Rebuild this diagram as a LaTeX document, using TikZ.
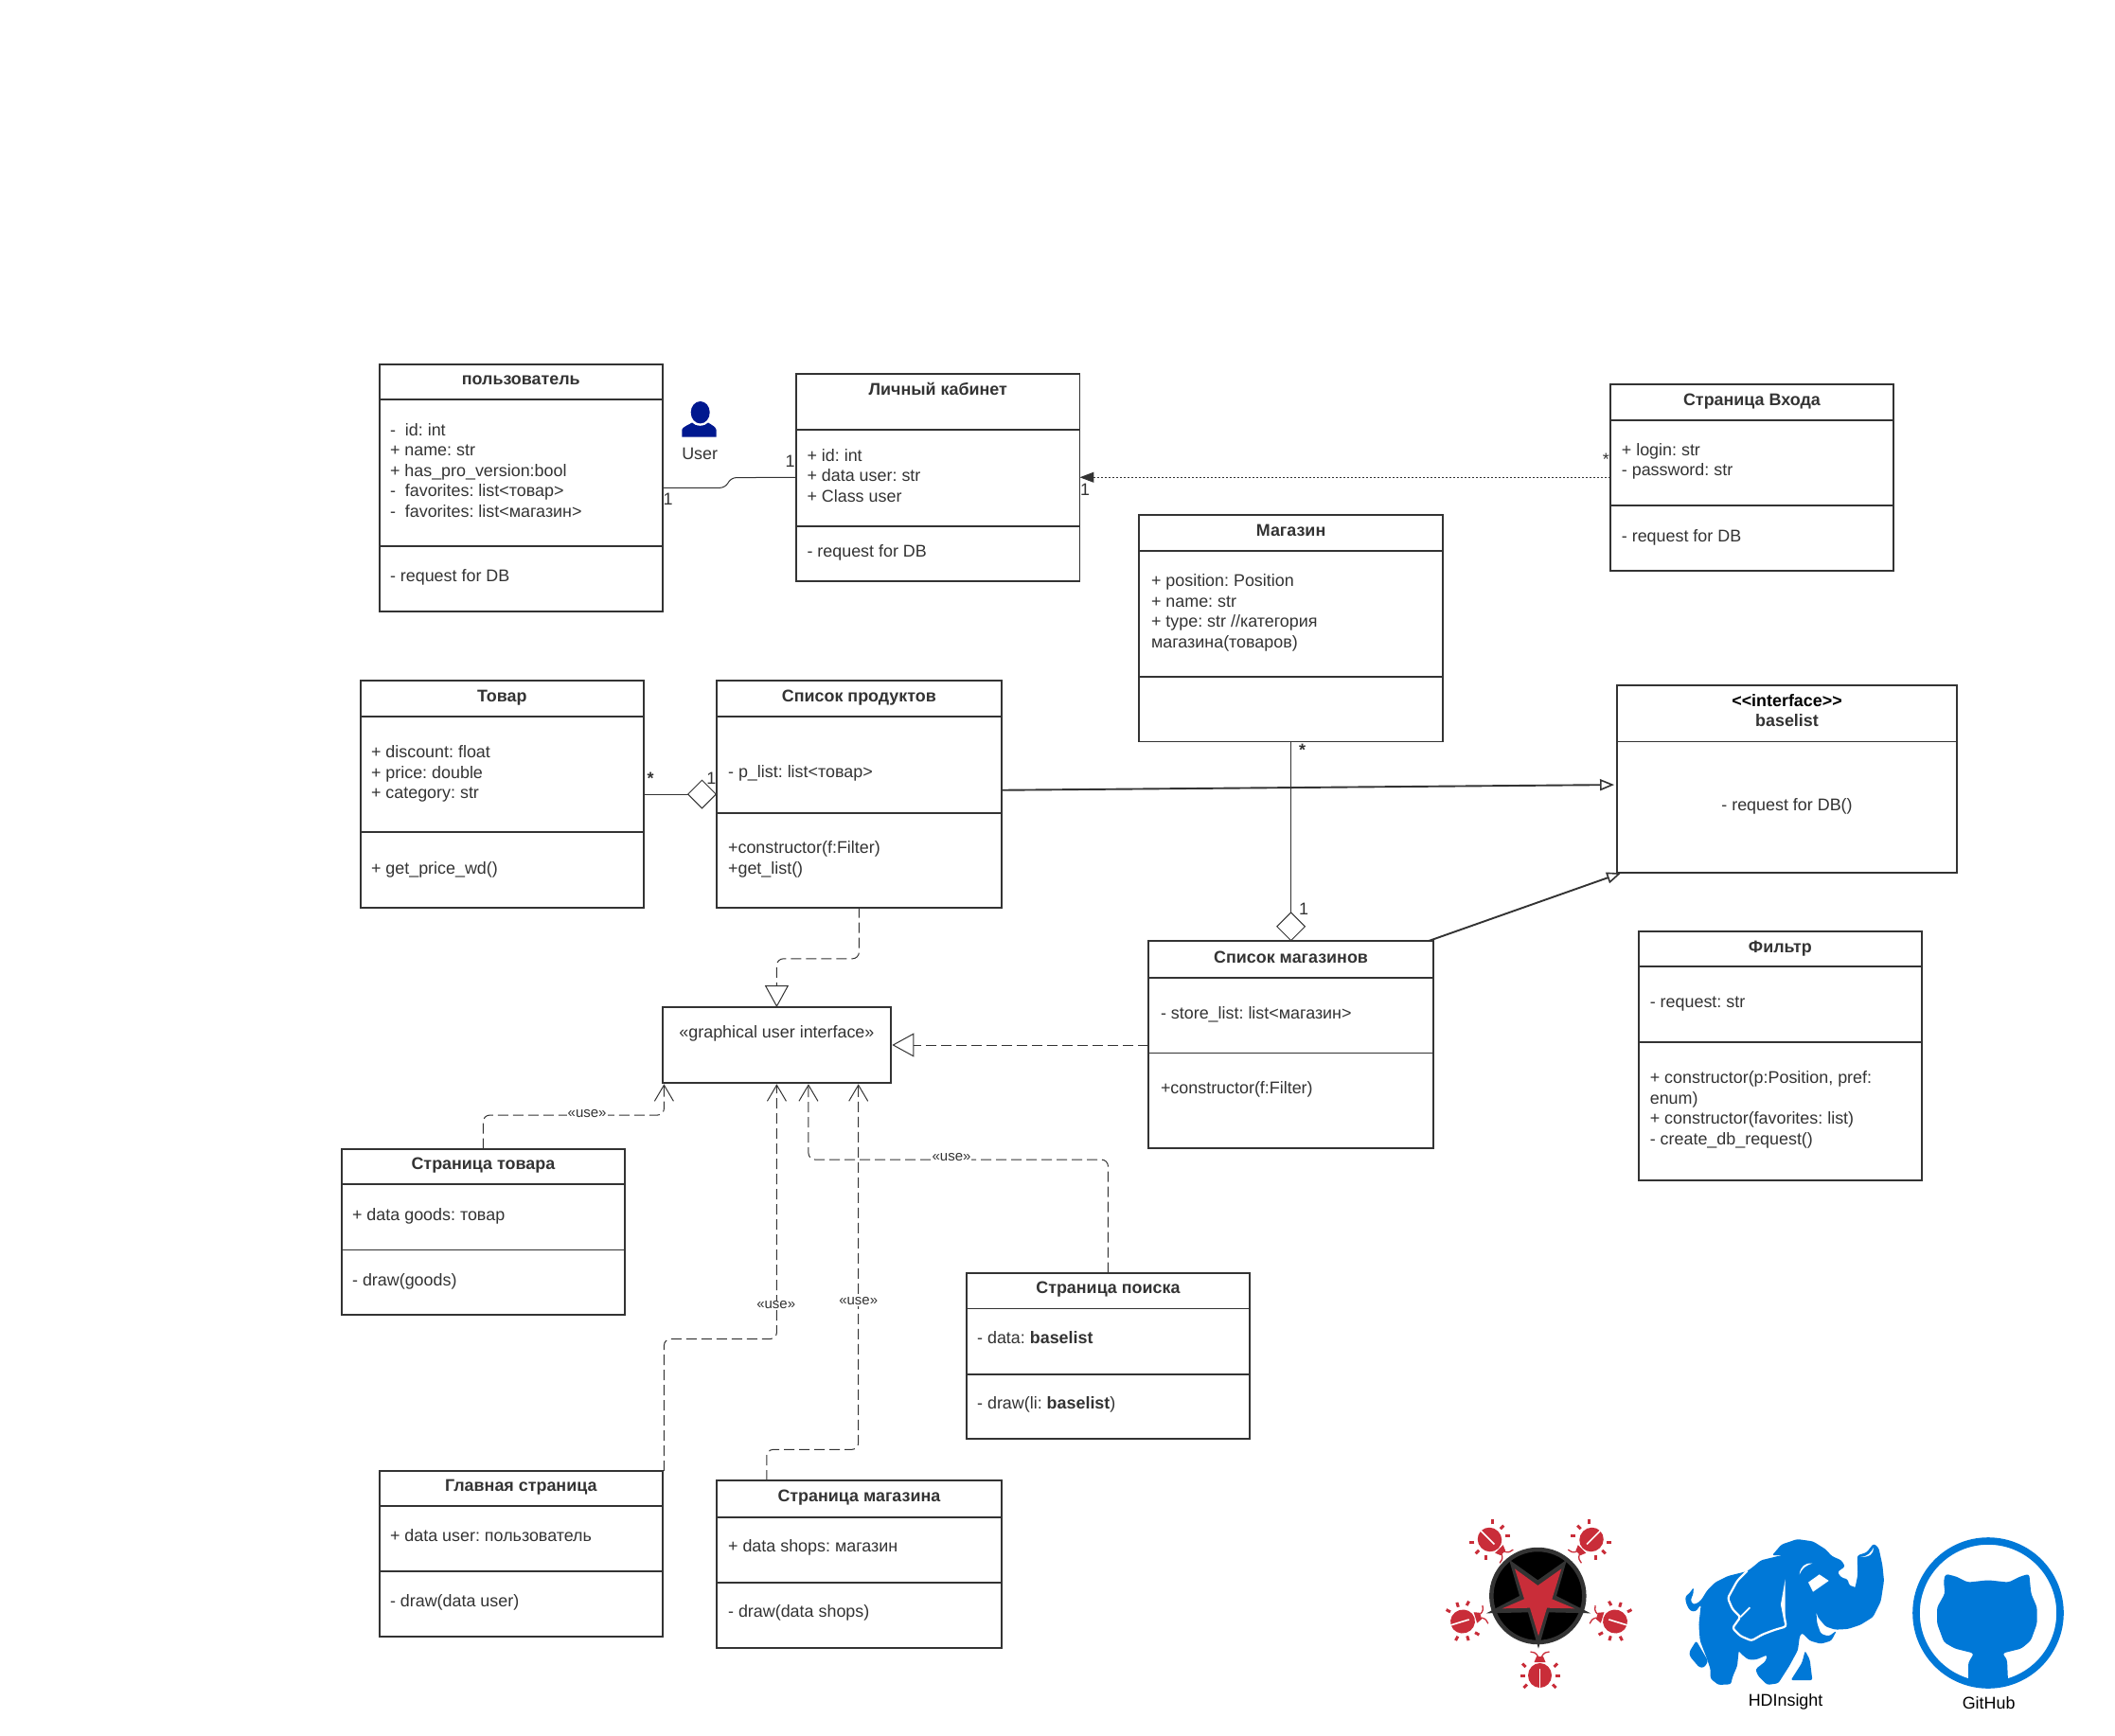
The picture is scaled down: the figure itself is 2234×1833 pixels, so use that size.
\documentclass[tikz,border=0pt]{standalone}
\usepackage{fontspec}
\setmainfont{Liberation Sans}
\usetikzlibrary{arrows.meta,calc}
\definecolor{ink}{HTML}{333333}
\definecolor{bugred}{HTML}{C92D39}
\definecolor{azure}{HTML}{0078D7}
\definecolor{navyuser}{HTML}{00188F}
\tikzset{
  umlframe/.style={draw=ink,line width=1.9pt,fill=white,inner sep=0pt,outer sep=0pt},
  memtext/.style={anchor=north west,inner sep=0pt,outer sep=0pt,align=left,text=ink,yshift=9.4pt,font=\fontsize{17.9}{21.5}\selectfont},
  titletext/.style={anchor=center,inner sep=0pt,outer sep=0pt,align=center,text=ink,yshift=-1.3pt,font=\fontsize{17.9}{21.5}\selectfont\bfseries},
  plaintext/.style={anchor=center,inner sep=0pt,outer sep=0pt,align=center,text=ink,yshift=-1.3pt,font=\fontsize{17.9}{21.5}\selectfont},
  mult/.style={anchor=center,inner sep=0pt,outer sep=0pt,text=ink,font=\fontsize{18}{21}\selectfont},
  uselabel/.style={anchor=center,fill=white,inner sep=1pt,outer sep=0pt,text=ink,font=\fontsize{15}{18}\selectfont},
  conn/.style={draw=ink,line width=1pt},
  usedep/.style={conn,dash pattern=on 11pt off 5pt,rounded corners=7pt,-{Straight Barb[length=17pt,width=20pt,line width=1pt]}},
  realize/.style={conn,dash pattern=on 11pt off 5pt,rounded corners=7pt,-{Triangle[open,length=23pt,width=25pt,fill=white,line width=1pt]}},
  generalize/.style={draw=ink,line width=1.9pt,-{Triangle[open,length=15pt,width=12pt,fill=white,line width=1.6pt]}},
  bugleg/.style={draw=bugred,line width=3pt},
}
% name x1 y1 x2 y2 sep1 sep2 titleY title
\newcommand{\umlbox}[9]{%
  \node[umlframe,minimum width={1.4256pt*(#4-#2)},minimum height={1.4245pt*(#5-#3)}] (#1) at ({(#2+#4)/2},{(#3+#5)/2}) {};
  \draw[draw=ink,line width=1.9pt] (#1.west |- 0,#6) -- (#1.east |- 0,#6);
  \draw[draw=ink,line width=1.9pt] (#1.west |- 0,#7) -- (#1.east |- 0,#7);
  \node[titletext] (#1-title) at ({(#2+#4)/2},#8) {\strut #9};
}
\newcommand{\bugicon}[3]{%
  \begin{scope}[shift={(#1pt,-#2pt)},rotate=#3,x=1pt,y=1pt]
    \fill[bugred] (0,0) ellipse (12.5pt and 13pt);
    \draw[white,line width=1.6pt] (0,7) -- (0,-13.5);
    \fill[bugred] (-6,14) -- (6,14) -- (3.5,20) -- (-3.5,20) -- cycle;
    \draw[bugred,line width=1.3pt] (-2,20) .. controls (-4,24) and (-7,25) .. (-10,25);
    \draw[bugred,line width=1.3pt] (2,20) .. controls (4,24) and (7,25) .. (10,25);
    \draw[bugleg] (-15,9) -- (-18.5,12.5);
    \draw[bugleg] (15,9) -- (18.5,12.5);
    \draw[bugleg] (-16,0) -- (-21,0);
    \draw[bugleg] (16,0) -- (21,0);
    \draw[bugleg] (-13.5,-9.5) -- (-17,-13);
    \draw[bugleg] (13.5,-9.5) -- (17,-13);
  \end{scope}
}
\begin{document}
\frenchspacing
\begin{tikzpicture}[x=1.4256pt,y=-1.4245pt]
\useasboundingbox (0pt,0pt) rectangle (2234pt,-1833pt);
\fill[white] (0pt,0pt) rectangle (2234pt,-1833pt);

% ---------- classes
\umlbox{user}{281}{270}{491}{453.5}{296}{405}{281.5}{пользователь}
\node[memtext] (user-a) at (289,319) {\strut -\ \ id: int\\+ name: str\\+ has\_pro\_version:bool\\-\ \ favorites: list<товар>\\-\ \ favorites: list<магазин>};
\node[memtext] (user-b) at (289,427.5) {\strut - request for DB};

\umlbox{kab}{590}{277}{800}{431}{318.5}{390}{289}{Личный кабинет}
\node[memtext] (kab-a) at (598,338) {\strut + id: int\\+ data user: str\\+ Class user};
\node[memtext] (kab-b) at (598,409) {\strut - request for DB};

\umlbox{vhod}{1193}{285}{1403}{423}{311.5}{375}{297}{Страница Входа}
\node[memtext] (vhod-a) at (1201.5,334) {\strut + login: str\\- password: str};
\node[memtext] (vhod-b) at (1201.5,398) {\strut - request for DB};

\umlbox{mag}{844}{382}{1069}{550}{408.5}{502}{393.5}{Магазин}
\node[memtext] (mag-a) at (853,431) {\strut + position: Position\\+ name: str\\+ type: str //категория\\магазина(товаров)};

\umlbox{tov}{267}{505}{477}{673}{531.5}{617}{516.5}{Товар}
\node[memtext] (tov-a) at (275,558) {\strut + discount: float\\+ price: double\\+ category: str};
\node[memtext] (tov-b) at (275,644) {\strut + get\_price\_wd()};

\umlbox{prod}{531}{505}{742}{673}{531.5}{603}{516.5}{Список продуктов}
\node[memtext] (prod-a) at (539.5,573) {\strut - p\_list: list<товар>};
\node[memtext] (prod-b) at (539.5,629) {\strut +constructor(f:Filter)\\+get\_list()};

\umlbox{base}{1198}{508}{1450}{647}{550}{550}{520}{\textcolor{black}{<{}<interface>{}>}}
\node[titletext] (base-name) at (1324,535) {\strut baselist};
\node[plaintext] (base-a) at (1324,597) {\strut - request for DB()};

\umlbox{mlist}{851}{698}{1062}{851.5}{725}{781}{710}{Список магазинов}
\node[memtext] (mlist-a) at (860,751.5) {\strut - store\_list: list<магазин>};
\node[memtext] (mlist-b) at (860,807.5) {\strut +constructor(f:Filter)};

\umlbox{filt}{1214}{691}{1424}{875.5}{717}{773}{702.5}{Фильтр}
\node[memtext] (filt-a) at (1222.5,743.5) {\strut - request: str};
\node[memtext] (filt-b) at (1222.5,799.5) {\strut + constructor(p:Position, pref:\\enum)\\+ constructor(favorites: list)\\- create\_db\_request()};

\node[umlframe,minimum width={1.4256pt*169},minimum height={1.4245pt*56}] (gui) at (575.5,775) {};
\node[plaintext] (gui-a) at (575.5,766) {\strut «graphical user interface»};

\umlbox{ptov}{253}{852}{463}{975}{878.5}{927}{863.5}{Страница товара}
\node[memtext] (ptov-a) at (261,901) {\strut + data goods: товар};
\node[memtext] (ptov-b) at (261,949.5) {\strut - draw(goods)};

\umlbox{ppoisk}{716}{944}{926}{1067}{970.5}{1019}{955.5}{Страница поиска}
\node[memtext] (ppoisk-a) at (724,992.5) {\strut - data: \textbf{baselist}};
\node[memtext] (ppoisk-b) at (724,1041) {\strut - draw(li: \textbf{baselist})};

\umlbox{glav}{281}{1091}{491}{1214}{1117}{1165.5}{1102}{Главная страница}
\node[memtext] (glav-a) at (289,1139) {\strut + data user: пользователь};
\node[memtext] (glav-b) at (289,1187.5) {\strut - draw(data user)};

\umlbox{pmag}{531}{1098}{742}{1222}{1125}{1173.5}{1110}{Страница магазина}
\node[memtext] (pmag-a) at (539.5,1147) {\strut + data shops: магазин};
\node[memtext] (pmag-b) at (539.5,1195.5) {\strut - draw(data shops)};

% ---------- connectors
\draw[conn,rounded corners=5pt] (user.east) -- ++(46,0) -- ++(5,-7.5) -- (kab.west);
\draw[draw=ink,line width=1pt,dash pattern=on 2pt off 2pt,-{Triangle[length=15pt,width=11pt]}] (vhod.west) -- (kab.east);
\draw[conn,{Diamond[open,length=31pt,width=31pt,fill=white,line width=1pt]}-] (prod.west) -- (tov.east);
\draw[conn,{Diamond[open,length=31pt,width=31pt,fill=white,line width=1pt]}-] (mlist.north) -- (mag.south);
\draw[generalize] ($(prod.east)+(0,-3)$) -- ($(base.west)+(-2,4.5)$);
\draw[generalize] ($(mlist.north east)+(-4,0)$) -- ($(base.south west)+(3,0.5)$);
\draw[realize] (prod.south) -- ++(0,38) -| (gui.north);
\draw[conn,dash pattern=on 11pt off 5pt,-{Triangle[open,length=23pt,width=25pt,fill=white,line width=1pt]}] (mlist.west |- gui.east) -- ($(gui.east)+(1,0)$);
\draw[usedep] (ptov.north) -- ++(0,-25) -| ($(gui.south west)+(1,1)$);
\draw[usedep] ($(glav.north east)+(1,0)$) -- ++(0,-98) -| ($(gui.south)+(0,1)$);
\draw[usedep] ($(pmag.north west)+(37,0)$) -- ++(0,-23) -| ($(gui.south east)+(-24,1)$);
\draw[usedep] (ppoisk.north) -- ++(0,-84) -| ($(gui.south west)+(108,1)$);

\node[uselabel] (use1) at (435,826) {«use»};
\node[uselabel] (use2) at (575,968) {«use»};
\node[uselabel] (use3) at (636,965) {«use»};
\node[uselabel] (use4) at (705,858) {«use»};

% ---------- multiplicities
\node[mult] (m1) at (495,370) {1};
\node[mult] (m2) at (585.5,342) {1};
\node[mult] (m3) at (804,363) {1};
\node[mult] (m4) at (1190,341) {*};
\node[mult] (m5) at (482,577) {\textbf{*}};
\node[mult] (m6) at (527,577) {1};
\node[mult] (m7) at (965,556) {\textbf{*}};
\node[mult] (m8) at (966,674) {1};

% ---------- user icon
\fill[navyuser] (739.7pt,-435.7pt) ellipse (10pt and 11.7pt);
\fill[navyuser] (720.3pt,-461.7pt) -- (720.3pt,-454pt) .. controls (721pt,-451pt) and (727pt,-449pt) .. (731pt,-446.5pt) .. controls (735pt,-451pt) and (744pt,-451pt) .. (748pt,-446.5pt) .. controls (752pt,-449pt) and (756pt,-451pt) .. (756.5pt,-454pt) -- (756.5pt,-461.7pt) -- cycle;
\node[plaintext] (usericon-label) at (518.5,337) {\strut User};

% ---------- bug emblem
\begin{scope}[shift={(1520pt,-1600pt)},x=0.3333pt,y=-0.3333pt]
  \fill[black] (313,258) circle (50pt);
  \draw[ink,line width=4.5pt] (313,258) circle (49pt);
  \fill[ink] (222,143) -- (313,208) -- (405,143) -- (372,258) -- (480,313) -- (348,310) -- (315,425) -- (282,310) -- (150,313) -- (255,258) -- cycle;
  \fill[bugred] (240,172) -- (313,225) -- (388,172) -- (358,268) -- (430,298) -- (342,296) -- (315,385) -- (288,296) -- (200,298) -- (270,268) -- cycle;
\end{scope}
\bugicon{1573.5}{1626.5}{-135}
\bugicon{1681}{1626.5}{135}
\bugicon{1545}{1713}{-73}
\bugicon{1706}{1713}{73}
\bugicon{1626.5}{1770}{0}

% ---------- elephant
\begin{scope}[shift={(1775pt,-1620pt)},x=0.3333pt,y=-0.3333pt]
  \fill[azure,rounded corners=2.5pt] (65,225) -- (48,248) -- (30,245) -- (18,222) -- (15,200) -- (30,188) -- (42,170) -- (40,195) -- (32,208) -- (38,225) -- (52,222) -- (65,212) -- (85,180) -- (110,155) -- (150,135) -- (210,120) -- (225,110) -- (255,85) -- (325,68) -- (290,70) -- (320,35) -- (370,18) -- (420,25) -- (460,50) -- (480,72) -- (510,85) -- (522,105) -- (497,122) -- (510,140) -- (530,145) -- (535,165) -- (555,170) -- (560,185) -- (540,210) -- (555,165) -- (562,130) -- (560,70) -- (590,60) -- (612,32) -- (628,45) -- (640,100) -- (645,150) -- (635,215) -- (610,265) -- (570,290) -- (530,303) -- (490,305) -- (460,295) -- (435,265) -- (430,245) -- (433,285) -- (445,318) -- (470,326) -- (495,308) -- (478,340) -- (445,350) -- (410,340) -- (385,315) -- (378,325) -- (372,370) -- (345,420) -- (310,475) -- (275,480) -- (245,450) -- (238,430) -- (270,405) -- (275,385) -- (240,400) -- (215,400) -- (190,380) -- (185,370) -- (180,420) -- (165,455) -- (160,478) -- (120,480) -- (95,460) -- (95,430) -- (85,400) -- (62,340) -- (58,290) -- cycle;
  \fill[azure,rounded corners=2.5pt] (50,340) -- (28,375) -- (30,390) -- (60,425) -- (75,425) -- (88,405) -- cycle;
  \fill[azure,rounded corners=2pt] (395,372) -- (410,400) -- (418,465) -- (350,465) -- (385,410) -- cycle;
  \draw[white,line width=2.2pt,rounded corners=2.5pt] (212,118) -- (180,150) -- (150,205) -- (165,240) -- (190,265) -- (165,300) -- (190,325) -- (225,340) -- (260,320) -- (300,305) -- (335,295) -- (322,225);
  \fill[white] (318,225) -- (332,145) -- (332,295) -- cycle;
  \draw[white,line width=1.8pt] (190,265) -- (220,235);
  \fill[white] (405,155) -- (440,130) -- (470,150) -- (420,185) -- cycle;
  \fill[white] (377,130) .. controls (380,105) and (395,92) .. (418,95) .. controls (400,100) and (385,110) .. (377,130) -- cycle;
  \fill[white] (570,75) .. controls (590,75) and (605,60) .. (612,45) .. controls (612,65) and (600,75) .. (570,75) -- cycle;
\end{scope}
\node[anchor=center,inner sep=0pt,text=black,font=\fontsize{17.9}{21.5}\selectfont] (hdi) at (1323,1262.5) {\strut HDInsight};

% ---------- github
\begin{scope}[shift={(2020pt,-1620pt)},x=0.3333pt,y=-0.3333pt]
  \draw[azure,line width=7.6pt] (240,252) circle (76pt);
  \fill[azure,rounded corners=3pt] (105,128) -- (140,137) -- (175,155) -- (240,148) -- (305,155) -- (340,137) -- (370,128) -- (376,190) -- (395,235) -- (395,285) -- (375,340) -- (345,365) -- (285,380) -- (300,400) -- (303,470) -- (177,470) -- (177,410) -- (195,380) -- (135,365) -- (100,345) -- (78,285) -- (78,235) -- (103,190) -- (99,150) -- cycle;
\end{scope}
\node[anchor=center,inner sep=0pt,text=black,font=\fontsize{17.9}{21.5}\selectfont] (gith) at (1473.5,1264.5) {\strut GitHub};
\end{tikzpicture}
\end{document}
